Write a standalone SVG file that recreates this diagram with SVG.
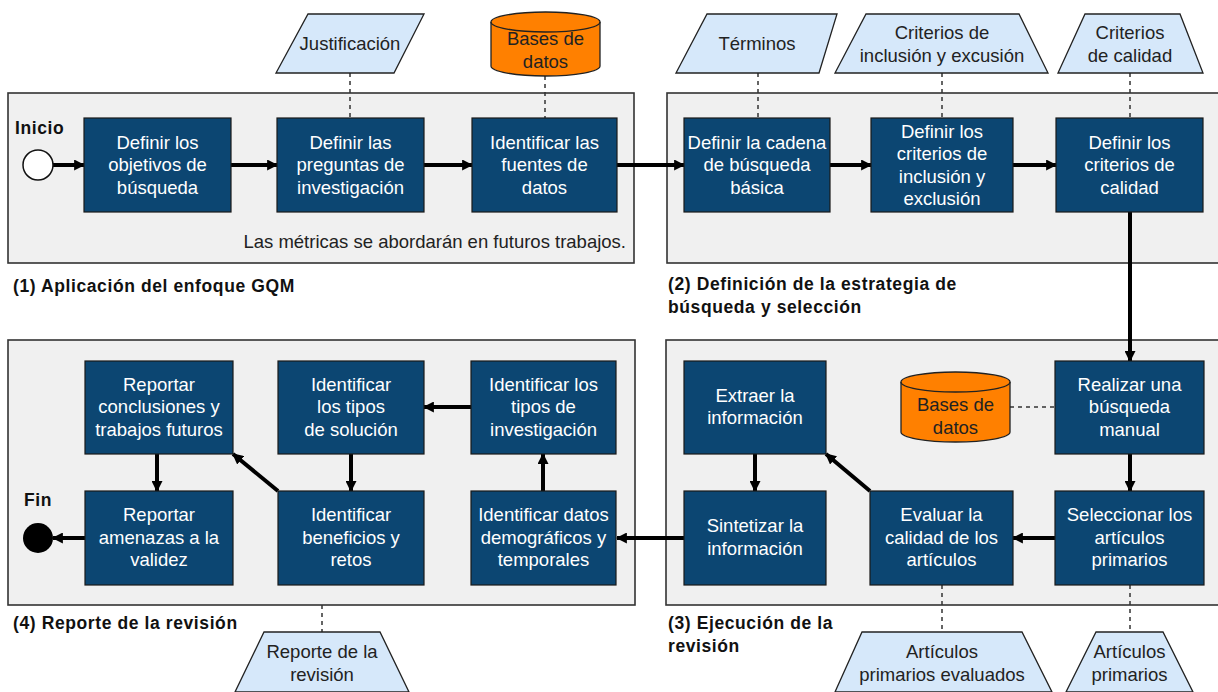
<svg xmlns="http://www.w3.org/2000/svg" width="1218" height="692" viewBox="0 0 1218 692">
<defs>
<style>
.panel{fill:#f0f0f0;stroke:#333;stroke-width:1.6}
.box{fill:#0c4672;stroke:#1a1a1a;stroke-width:1.2}
.bt{font-family:"Liberation Sans",Arial,sans-serif;font-size:18.5px;fill:#fff;text-anchor:middle}
.io{fill:#d6e8fa;stroke:#222;stroke-width:1.3}
.db{fill:#ff8000;stroke:#222;stroke-width:1.3}
.it{font-family:"Liberation Sans",Arial,sans-serif;font-size:18.5px;fill:#222;text-anchor:middle}
.lbl{font-family:"Liberation Sans",Arial,sans-serif;font-size:17.5px;font-weight:bold;fill:#111;letter-spacing:0.6px}
.note{font-family:"Liberation Sans",Arial,sans-serif;font-size:18.5px;fill:#222;text-anchor:end}
.flow{fill:none;stroke:#000;stroke-width:4;marker-end:url(#ah)}
.dash{fill:none;stroke:#333;stroke-width:1.5;stroke-dasharray:4 4}
</style>
<marker id="ah" viewBox="0 0 10 10" refX="9" refY="5" markerWidth="11" markerHeight="11" markerUnits="userSpaceOnUse" orient="auto">
<path d="M0,0 L10,5 L0,10 z" fill="#000"/>
</marker>
</defs>
<rect width="1218" height="692" fill="#fff"/>

<g id="panels">
<rect id="panel1" class="panel" x="8" y="93" width="626" height="170"/>
<rect id="panel2" class="panel" x="667" y="93" width="560" height="170"/>
<rect id="panel3" class="panel" x="666" y="340" width="560" height="265"/>
<rect id="panel4" class="panel" x="8" y="340" width="627" height="265"/>
<text class="note" x="626" y="248">Las métricas se abordarán en futuros trabajos.</text>
<text class="lbl" x="13" y="292">(1) Aplicación del enfoque GQM</text>
<text class="lbl" x="668" y="290">(2) Definición de la estrategia de</text>
<text class="lbl" x="668" y="313">búsqueda y selección</text>
<text class="lbl" x="668" y="629">(3) Ejecución de la</text>
<text class="lbl" x="668" y="652">revisión</text>
<text class="lbl" x="13" y="629">(4) Reporte de la revisión</text>
</g>

<g id="connectors">
<line class="flow" x1="53" y1="165" x2="84" y2="165"/>
<line class="flow" x1="231" y1="165" x2="277" y2="165"/>
<line class="flow" x1="424" y1="165" x2="472" y2="165"/>
<line class="flow" x1="617" y1="165" x2="684" y2="165"/>
<line class="flow" x1="830" y1="165" x2="871" y2="165"/>
<line class="flow" x1="1013" y1="165" x2="1056" y2="165"/>
<line class="flow" x1="1130" y1="212" x2="1130" y2="361"/>
<line class="flow" x1="1130" y1="454" x2="1130" y2="491"/>
<line class="flow" x1="1056" y1="538" x2="1013" y2="538"/>
<line class="flow" x1="870" y1="491" x2="826" y2="454"/>
<line class="flow" x1="755" y1="454" x2="755" y2="491"/>
<line class="flow" x1="684" y1="538" x2="617" y2="538"/>
<line class="flow" x1="543" y1="491" x2="543" y2="454"/>
<line class="flow" x1="471" y1="407" x2="424" y2="407"/>
<line class="flow" x1="351" y1="454" x2="351" y2="491"/>
<line class="flow" x1="278" y1="491" x2="233" y2="454"/>
<line class="flow" x1="157" y1="454" x2="157" y2="491"/>
<line class="flow" x1="85" y1="538" x2="53" y2="538"/>
<line class="dash" x1="350" y1="73" x2="350" y2="118"/>
<line class="dash" x1="545" y1="76" x2="545" y2="118"/>
<line class="dash" x1="758" y1="73" x2="758" y2="118"/>
<line class="dash" x1="942" y1="73" x2="942" y2="118"/>
<line class="dash" x1="1130" y1="73" x2="1130" y2="118"/>
<line class="dash" x1="1010" y1="407" x2="1055" y2="407"/>
<line class="dash" x1="942" y1="585" x2="942" y2="632"/>
<line class="dash" x1="1130" y1="585" x2="1130" y2="632"/>
<line class="dash" x1="322" y1="605" x2="322" y2="632"/>
</g>

<g id="start">
<circle cx="38" cy="165" r="15" fill="#fff" stroke="#111" stroke-width="1.5"/>
<text class="lbl" x="15" y="134">Inicio</text>
</g>
<g id="end">
<circle cx="38" cy="538" r="15" fill="#000"/>
<text class="lbl" x="24" y="506">Fin</text>
</g>

<g id="n1"><rect class="box" x="84" y="118" width="147" height="94"/>
<text class="bt" x="157.5" y="148.5">Definir los</text><text class="bt" x="157.5" y="171">objetivos de</text><text class="bt" x="157.5" y="193.5">búsqueda</text></g>
<g id="n2"><rect class="box" x="277" y="118" width="147" height="94"/>
<text class="bt" x="350.5" y="148.5">Definir las</text><text class="bt" x="350.5" y="171">preguntas de</text><text class="bt" x="350.5" y="193.5">investigación</text></g>
<g id="n3"><rect class="box" x="472" y="118" width="145" height="94"/>
<text class="bt" x="544.5" y="148.5">Identificar las</text><text class="bt" x="544.5" y="171">fuentes de</text><text class="bt" x="544.5" y="193.5">datos</text></g>
<g id="n4"><rect class="box" x="684" y="118" width="146" height="94"/>
<text class="bt" x="757" y="148.5">Definir la cadena</text><text class="bt" x="757" y="171">de búsqueda</text><text class="bt" x="757" y="193.5">básica</text></g>
<g id="n5"><rect class="box" x="871" y="118" width="142" height="94"/>
<text class="bt" x="942" y="137.5">Definir los</text><text class="bt" x="942" y="160">criterios de</text><text class="bt" x="942" y="182.5">inclusión y</text><text class="bt" x="942" y="205">exclusión</text></g>
<g id="n6"><rect class="box" x="1056" y="118" width="147" height="94"/>
<text class="bt" x="1129.5" y="148.5">Definir los</text><text class="bt" x="1129.5" y="171">criterios de</text><text class="bt" x="1129.5" y="193.5">calidad</text></g>

<g id="n7"><rect class="box" x="1055" y="361" width="149" height="93"/>
<text class="bt" x="1129.5" y="390.5">Realizar una</text><text class="bt" x="1129.5" y="413">búsqueda</text><text class="bt" x="1129.5" y="435.5">manual</text></g>
<g id="n8"><rect class="box" x="1055" y="491" width="149" height="94"/>
<text class="bt" x="1129.5" y="521">Seleccionar los</text><text class="bt" x="1129.5" y="543.5">artículos</text><text class="bt" x="1129.5" y="566">primarios</text></g>
<g id="n9"><rect class="box" x="870" y="491" width="143" height="94"/>
<text class="bt" x="941.5" y="521">Evaluar la</text><text class="bt" x="941.5" y="543.5">calidad de los</text><text class="bt" x="941.5" y="566">artículos</text></g>
<g id="n10"><rect class="box" x="684" y="361" width="142" height="93"/>
<text class="bt" x="755" y="401.5">Extraer la</text><text class="bt" x="755" y="424">información</text></g>
<g id="n11"><rect class="box" x="684" y="491" width="142" height="94"/>
<text class="bt" x="755" y="532">Sintetizar la</text><text class="bt" x="755" y="554.5">información</text></g>

<g id="n12"><rect class="box" x="471" y="491" width="145" height="94"/>
<text class="bt" x="543.5" y="521">Identificar datos</text><text class="bt" x="543.5" y="543.5">demográficos y</text><text class="bt" x="543.5" y="566">temporales</text></g>
<g id="n13"><rect class="box" x="471" y="361" width="145" height="93"/>
<text class="bt" x="543.5" y="390.5">Identificar los</text><text class="bt" x="543.5" y="413">tipos de</text><text class="bt" x="543.5" y="435.5">investigación</text></g>
<g id="n14"><rect class="box" x="278" y="361" width="146" height="93"/>
<text class="bt" x="351" y="390.5">Identificar</text><text class="bt" x="351" y="413">los tipos</text><text class="bt" x="351" y="435.5">de solución</text></g>
<g id="n15"><rect class="box" x="278" y="491" width="146" height="94"/>
<text class="bt" x="351" y="521">Identificar</text><text class="bt" x="351" y="543.5">beneficios y</text><text class="bt" x="351" y="566">retos</text></g>
<g id="n16"><rect class="box" x="85" y="361" width="148" height="93"/>
<text class="bt" x="159" y="390.5">Reportar</text><text class="bt" x="159" y="413">conclusiones y</text><text class="bt" x="159" y="435.5">trabajos futuros</text></g>
<g id="n17"><rect class="box" x="85" y="491" width="148" height="94"/>
<text class="bt" x="159" y="521">Reportar</text><text class="bt" x="159" y="543.5">amenazas a la</text><text class="bt" x="159" y="566">validez</text></g>

<g id="justificacion"><polygon class="io" points="308,14 424,14 394,73 276,73"/>
<text class="it" x="350" y="49.5">Justificación</text></g>
<g id="bases1"><path class="db" d="M491,22 A54.5,10 0 0 1 600,22 L600,66 A54.5,10 0 0 1 491,66 Z"/>
<path d="M491,22 A54.5,10 0 0 0 600,22" fill="none" stroke="#222" stroke-width="1.3"/>
<text class="it" x="545.5" y="45">Bases de</text><text class="it" x="545.5" y="68">datos</text></g>
<g id="terminos"><polygon class="io" points="707,14 837,14 819,73 676,73"/>
<text class="it" x="757" y="49.5">Términos</text></g>
<g id="criteriosInc"><polygon class="io" points="866,14 1019,14 1048,73 835,73"/>
<text class="it" x="942" y="38.5">Criterios de</text><text class="it" x="942" y="61.5">inclusión y excusión</text></g>
<g id="criteriosCal"><polygon class="io" points="1085,14 1180,14 1203,73 1058,73"/>
<text class="it" x="1130" y="38.5">Criterios</text><text class="it" x="1130" y="61.5">de calidad</text></g>
<g id="bases2"><path class="db" d="M901,382 A54.5,10 0 0 1 1010,382 L1010,432 A54.5,10 0 0 1 901,432 Z"/>
<path d="M901,382 A54.5,10 0 0 0 1010,382" fill="none" stroke="#222" stroke-width="1.3"/>
<text class="it" x="955.5" y="410.5">Bases de</text><text class="it" x="955.5" y="434">datos</text></g>
<g id="reporte"><polygon class="io" points="264,632 380,632 409,692 235,692"/>
<text class="it" x="322" y="657.5">Reporte de la</text><text class="it" x="322" y="680.5">revisión</text></g>
<g id="artEval"><polygon class="io" points="862,632 1022,632 1052,692 835,692"/>
<text class="it" x="942" y="657.5">Artículos</text><text class="it" x="942" y="680.5">primarios evaluados</text></g>
<g id="artPrim"><polygon class="io" points="1096,632 1163,632 1193,692 1066,692"/>
<text class="it" x="1129.5" y="657.5">Artículos</text><text class="it" x="1129.5" y="680.5">primarios</text></g>
</svg>
